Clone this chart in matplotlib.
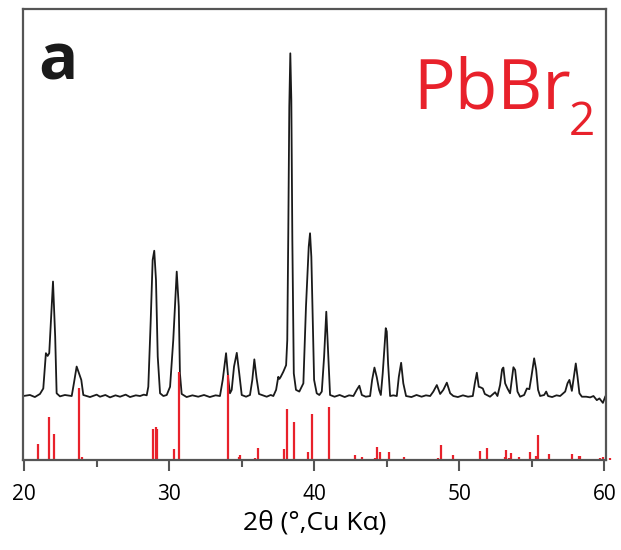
import numpy as np
import matplotlib
matplotlib.use("Agg")
import matplotlib.pyplot as plt
from matplotlib.ticker import MultipleLocator

plt.rcParams["font.family"] = ["Open Sans", "DejaVu Sans"]

# measured pattern (2theta in degrees, intensity in % of strongest peak)
two_theta = [
    19.94, 20.40, 20.74, 21.09, 21.32, 21.50, 21.62, 21.73, 21.99, 22.14, 22.24,
    22.47, 22.81, 23.28, 23.43, 23.62, 23.80, 23.94, 24.08, 24.54, 25.00, 25.23,
    25.60, 25.92, 26.30, 26.61, 27.00, 27.30, 27.70, 27.99, 28.25, 28.45,
    28.56, 28.72, 28.86, 28.97, 29.09, 29.21, 29.37, 29.60, 29.83, 30.06, 30.28,
    30.52, 30.66, 30.74, 30.86, 31.20, 31.60, 32.00, 32.40, 32.80, 33.20, 33.50,
    33.69, 33.92, 34.08, 34.19, 34.31, 34.47, 34.66, 34.83, 35.00, 35.30, 35.57,
    35.73, 35.87, 36.02, 36.19, 36.45, 36.72, 37.00, 37.18, 37.37, 37.52, 37.60,
    37.69, 37.87, 38.06, 38.14, 38.21, 38.28, 38.35, 38.42, 38.49, 38.59, 38.74,
    38.97, 39.25, 39.43, 39.62, 39.71, 39.80, 39.90, 39.99, 40.17, 40.35, 40.52,
    40.68, 40.83, 40.97, 41.09, 41.40, 41.75, 42.10, 42.40, 42.70, 42.93, 43.11,
    43.28, 43.55, 43.85, 43.99, 44.15, 44.31, 44.47, 44.59, 44.72, 44.86, 44.93,
    45.00, 45.09, 45.23, 45.45, 45.69, 45.83, 45.99, 46.14, 46.33, 46.70, 47.05,
    47.40, 47.70, 47.99, 48.21, 48.45, 48.68, 48.90, 49.14, 49.37, 49.59, 49.90,
    50.25, 50.60, 50.93, 51.07, 51.21, 51.34, 51.48, 51.62, 51.76, 52.12, 52.47,
    52.63, 52.81, 52.95, 53.04, 53.16, 53.32, 53.50, 53.62, 53.73, 53.85, 54.01,
    54.19, 54.47, 54.66, 54.83, 54.97, 55.16, 55.30, 55.43, 55.57, 55.85, 55.99,
    56.12, 56.40, 56.70, 56.95, 57.30, 57.46, 57.59, 57.76, 57.90, 58.03, 58.15,
    58.28, 58.45, 58.75, 59.02, 59.25, 59.48, 59.66, 59.90, 60.06,
]
intensity = [
    0.0, 0.3, -0.3, 0.6, 2.2, 12.5, 11.7, 12.5, 33.4, 17.3, 0.8,
    -0.1, 0.3, 0.0, 3.7, 8.6, 6.4, 4.7, 0.3, -0.3, 0.4, -0.2,
    0.3, -0.4, 0.2, -0.2, 0.4, -0.3, 0.2, 0.0, 0.4, 0.2,
    2.7, 21.3, 39.7, 42.4, 33.8, 11.5, 0.8, 0.0, 0.3, 2.7, 16.3,
    36.3, 26.1, 6.6, 0.6, -0.3, 0.2, -0.2, 0.3, -0.3, 0.2, 0.0,
    4.7, 12.5, 4.7, 0.8, 1.8, 8.6, 12.6, 6.6, 0.3, -0.2, 0.3,
    4.7, 10.7, 5.3, 0.6, 0.2, -0.2, 0.3, 0.0, 1.8, 5.6, 5.0,
    5.6, 7.1, 9.0, 16.3, 47.5, 84.4, 100.0, 86.4, 45.5, 6.6, 1.8,
    1.3, 3.7, 26.1, 43.6, 47.5, 40.6, 21.2, 4.7, 0.8, 0.3, 1.3,
    11.5, 24.6, 11.5, 0.3, -0.2, 0.3, -0.3, 0.2, 0.0, 1.8, 3.0,
    0.3, -0.2, 0.0, 4.7, 8.3, 5.5, 1.8, 0.3, 6.6, 15.4, 19.8,
    18.8, 9.5, 0.0, 0.2, 0.0, 5.6, 9.7, 3.7, 0.0, -0.3, 0.3,
    -0.2, 0.2, 0.0, 1.3, 3.2, 0.6, 1.8, 3.9, 0.8, 0.0, -0.3,
    0.2, -0.2, 0.0, 3.7, 6.8, 2.7, 2.5, 2.2, 0.6, -0.2, 1.1,
    0.0, 3.2, 7.8, 8.3, 3.7, 2.2, 0.8, 4.7, 8.4, 7.6, 1.3,
    -0.2, 0.3, 2.2, 2.0, 5.6, 11.0, 7.6, 1.8, 0.0, 0.3, 1.3,
    0.0, -0.3, 0.2, 0.0, 1.3, 3.7, 4.7, 1.5, 5.6, 9.5, 5.6,
    0.8, -0.2, -0.2, -0.4, 0.0, -1.2, -0.7, -2.0, -0.2,
]

# PbBr2 reference card: line positions and relative intensities (%)
ref_pos = [
    20.95, 21.69, 22.08, 23.76, 23.99, 28.87, 29.08, 29.14, 30.31, 30.68,
    34.06, 34.79, 34.88, 35.90, 36.10, 37.90, 38.12, 38.58, 39.57, 39.83,
    41.02, 42.79, 43.27, 44.19, 44.31, 44.54, 45.16, 45.62, 46.19, 48.56,
    48.72, 49.32, 49.55, 51.46, 51.94, 52.59, 53.18, 53.23, 53.40, 53.57,
    54.10, 54.90, 55.27, 55.43, 56.19, 57.50, 57.80, 58.26, 58.35, 59.70,
    59.94, 60.40,
]
ref_int = [
    18.0, 48.5, 30.0, 81.5, 4.0, 35.0, 37.0, 35.0, 13.0, 100.0,
    96.5, 3.5, 6.0, 2.0, 13.5, 13.0, 57.5, 43.0, 9.5, 52.0,
    60.0, 5.5, 3.0, 2.0, 15.0, 9.5, 8.7, 1.5, 3.0, 2.0,
    16.7, 1.5, 5.7, 10.0, 14.0, 1.5, 3.0, 11.0, 2.3, 8.0,
    3.0, 8.7, 4.2, 29.0, 6.5, 1.0, 6.5, 4.2, 4.2, 2.0,
    3.0, 2.3,
]

red = "#e8212b"
curve_offset = 64.0   # pattern sits above the reference lines
curve_scale = 3.427
stick_scale = 0.88

fig = plt.figure(figsize=(6.21, 5.5), dpi=100)
ax = fig.add_axes([0.037, 0.1636, 0.939, 0.82])

tt = np.array(two_theta)
ax.plot(tt, curve_offset + curve_scale * np.array(intensity),
        color="#1a1a1a", linewidth=1.3, solid_joinstyle="round")

ax.vlines(ref_pos, 0, stick_scale * np.array(ref_int), color=red,
          linewidth=1.6, clip_on=False)

ax.set_xlim(19.92, 60.12)
ax.set_ylim(0, 451)
ax.set_yticks([])
ax.xaxis.set_major_locator(MultipleLocator(10))
ax.xaxis.set_minor_locator(MultipleLocator(5))
ax.tick_params(axis="x", which="major", length=8, width=1.5, color="#555555",
               labelsize=15, pad=9)
ax.tick_params(axis="x", which="minor", length=5, width=1.5, color="#555555")
for s in ax.spines.values():
    s.set_color("#555555")
    s.set_linewidth(1.6)

ax.set_xlabel("2θ (°,Cu Kα)", fontsize=19, labelpad=4)

fig.text(0.061, 0.855, "a", fontsize=47, fontweight="bold", color="#1a1a1a",
         va="baseline")
fig.text(0.666, 0.8036, "PbBr", fontsize=50, color=red, va="baseline")
fig.text(0.916, 0.7545, "2", fontsize=33, color=red, va="baseline")

fig.savefig("out.png", dpi=100)
